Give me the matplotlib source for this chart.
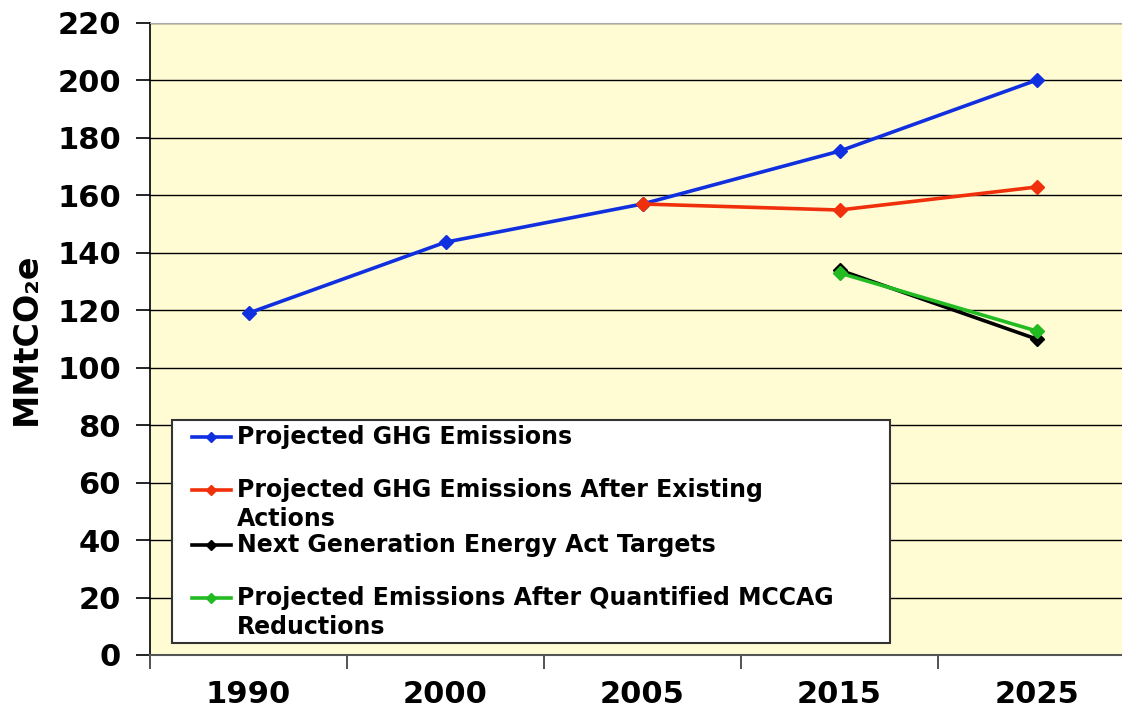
import matplotlib.pyplot as plt
from matplotlib.lines import Line2D
from matplotlib.patches import Rectangle

# dati
years = ['1990', '2000', '2005', '2015', '2025']
ghg = [119, 143.7, 157, 175.4, 200.1]
ghg_after = [None, None, 157, 154.9, 162.9]
nge_targets = [None, None, None, 134, 110]
mccag = [None, None, None, 133, 112.8]

labels = ['Projected GHG Emissions',
          'Projected GHG Emissions After Existing\nActions',
          'Next Generation Energy Act Targets',
          'Projected Emissions After Quantified MCCAG\nReductions']
colors = ['#1030E0', '#F0300A', '#000000', '#22BB22']

W, H = 1122, 719
fig = plt.figure(figsize=(W / 100, H / 100), dpi=100)
ax = fig.add_axes([150 / W, 1 - 655 / H, 985 / W, 632 / H])
ax.set_facecolor('#FFFCD4')

series = [ghg, ghg_after, nge_targets, mccag]
for vals, c in zip(series, colors):
    xs = [i for i, v in enumerate(vals) if v is not None]
    ys = [v for v in vals if v is not None]
    ax.plot(xs, ys, color=c, lw=2.6, marker='D', ms=7, zorder=3)

ax.set_xlim(-0.5, 4.5)
ax.set_ylim(0, 220)
ax.set_yticks(range(0, 221, 20))
ax.yaxis.grid(True, color='black', lw=1.0)
ax.set_axisbelow(True)

ax.set_xticks(range(len(years)))
ax.set_xticklabels(years)
ax.set_xticks([i - 0.5 for i in range(len(years) + 1)], minor=True)
ax.tick_params(axis='x', which='major', length=0, pad=18)
ax.tick_params(axis='x', which='minor', length=10, width=1.2, color='#333333')
ax.tick_params(axis='y', length=10, width=1.2, pad=11)
for t in ax.get_xticklabels() + ax.get_yticklabels():
    t.set_fontsize(22)
    t.set_fontweight('bold')

ax.spines['right'].set_visible(False)
ax.spines['top'].set_color('#AAAAAA')
ax.spines['bottom'].set_color('#555555')
ax.spines['bottom'].set_linewidth(1.5)
ax.spines['left'].set_linewidth(1.2)

ax.set_ylabel('MMtCO₂e', fontsize=24, fontweight='bold', labelpad=10)

# legenda fatta a mano
def px(x, y):
    return x / W, 1 - y / H

x0, y0 = px(172, 643)
x1, y1 = px(890, 420)
fig.patches.append(Rectangle((x0, y0), x1 - x0, y1 - y0, transform=fig.transFigure,
                             facecolor='white', edgecolor='#333333', lw=1.5, zorder=5))
rows = [437, 490, 545, 598]
for lab, c, yy in zip(labels, colors, rows):
    lx0, ly = px(192, yy)
    lx1, _ = px(231, yy)
    mx, _ = px(211, yy)
    fig.add_artist(Line2D([lx0, lx1], [ly, ly], color=c, lw=2.6, zorder=6))
    fig.add_artist(Line2D([mx], [ly], color=c, marker='D', ms=5, zorder=6))
    tx, ty = px(237, yy - 12)
    fig.text(tx, ty, lab, fontsize=17, fontweight='bold', va='top', ha='left',
             linespacing=1.25, zorder=7)

fig.savefig('out.png', dpi=100)
